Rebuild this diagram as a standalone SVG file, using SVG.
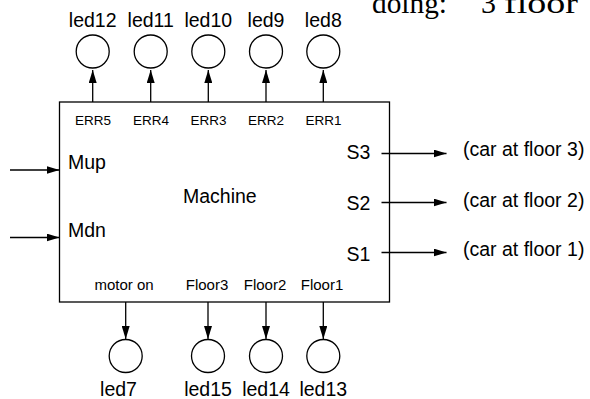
<svg xmlns="http://www.w3.org/2000/svg" width="590" height="399" viewBox="0 0 590 399">
<style>
.big{font-family:"Liberation Sans",Arial,sans-serif;font-size:19.5px;fill:#000}
.sm{font-family:"Liberation Sans",Arial,sans-serif;font-size:13.5px;fill:#000}
.md{font-family:"Liberation Sans",Arial,sans-serif;font-size:15px;fill:#000}
.mid{text-anchor:middle}
.ttl{font-family:"Liberation Serif","Times New Roman",serif;font-size:30px;fill:#000}
.ln{stroke:#000;stroke-width:1.3;fill:none}
.led{stroke:#000;stroke-width:1.3;fill:#fff}
</style>
<defs>
<marker id="ah" markerUnits="userSpaceOnUse" markerWidth="13" markerHeight="8" refX="13" refY="4" orient="auto">
<path d="M0,0 L13,4 L0,8 Z" fill="#000"/>
</marker>
</defs>
<g id="title">
<text class="ttl" x="372" y="13" textLength="75" lengthAdjust="spacingAndGlyphs">doing:</text>
<text class="ttl" x="481" y="13">3</text>
<text class="ttl" x="504" y="13" textLength="74" lengthAdjust="spacingAndGlyphs">floor</text>
</g>
<g id="machine">
<rect x="59.5" y="102" width="330" height="200" class="ln"/>
<text class="big" x="183" y="203">Machine</text>
<text class="big" x="68" y="169">Mup</text>
<text class="big" x="68" y="237">Mdn</text>
<text class="big" x="346.5" y="159">S3</text>
<text class="big" x="346.5" y="210">S2</text>
<text class="big" x="346.5" y="261">S1</text>
<text class="sm mid" x="93" y="125">ERR5</text>
<text class="sm mid" x="151" y="125">ERR4</text>
<text class="sm mid" x="208.5" y="125">ERR3</text>
<text class="sm mid" x="266" y="125">ERR2</text>
<text class="sm mid" x="323.5" y="125">ERR1</text>
<text class="md mid" x="124" y="290">motor on</text>
<text class="md mid" x="207" y="290">Floor3</text>
<text class="md mid" x="265" y="290">Floor2</text>
<text class="md mid" x="322" y="290">Floor1</text>
</g>
<g id="led12"><circle cx="92.7" cy="51.5" r="16.5" class="led"/><text class="big mid" x="92.7" y="26.5">led12</text></g>
<g id="led11"><circle cx="150.7" cy="51.5" r="16.5" class="led"/><text class="big mid" x="150.7" y="26.5">led11</text></g>
<g id="led10"><circle cx="208.3" cy="51.5" r="16.5" class="led"/><text class="big mid" x="208.3" y="26.5">led10</text></g>
<g id="led9"><circle cx="266" cy="51.5" r="16.5" class="led"/><text class="big mid" x="266" y="26.5">led9</text></g>
<g id="led8"><circle cx="323.3" cy="51.5" r="16.5" class="led"/><text class="big mid" x="323.3" y="26.5">led8</text></g>
<g id="led7"><circle cx="125.7" cy="356" r="16.5" class="led"/><text class="big mid" x="118.5" y="396">led7</text></g>
<g id="led15"><circle cx="208" cy="356" r="16.5" class="led"/><text class="big mid" x="208" y="396">led15</text></g>
<g id="led14"><circle cx="266" cy="356" r="16.5" class="led"/><text class="big mid" x="266" y="396">led14</text></g>
<g id="led13"><circle cx="323.3" cy="356" r="16.5" class="led"/><text class="big mid" x="323.3" y="396">led13</text></g>
<g id="out3"><text class="big" x="463" y="156">(car at floor 3)</text></g>
<g id="out2"><text class="big" x="463" y="206.5">(car at floor 2)</text></g>
<g id="out1"><text class="big" x="463" y="256">(car at floor 1)</text></g>
<g id="connectors">
<line x1="92.7" y1="102" x2="92.7" y2="70" class="ln" marker-end="url(#ah)"/>
<line x1="150.7" y1="102" x2="150.7" y2="70" class="ln" marker-end="url(#ah)"/>
<line x1="208.3" y1="102" x2="208.3" y2="70" class="ln" marker-end="url(#ah)"/>
<line x1="266" y1="102" x2="266" y2="70" class="ln" marker-end="url(#ah)"/>
<line x1="323.3" y1="102" x2="323.3" y2="70" class="ln" marker-end="url(#ah)"/>
<line x1="125.7" y1="302" x2="125.7" y2="339" class="ln" marker-end="url(#ah)"/>
<line x1="208" y1="302" x2="208" y2="339" class="ln" marker-end="url(#ah)"/>
<line x1="266" y1="302" x2="266" y2="339" class="ln" marker-end="url(#ah)"/>
<line x1="323.3" y1="302" x2="323.3" y2="339" class="ln" marker-end="url(#ah)"/>
<line x1="10" y1="170" x2="59.5" y2="170" class="ln" marker-end="url(#ah)"/>
<line x1="10" y1="237.5" x2="59.5" y2="237.5" class="ln" marker-end="url(#ah)"/>
<line x1="381.5" y1="153.5" x2="446.5" y2="153.5" class="ln" marker-end="url(#ah)"/>
<line x1="381.5" y1="202.5" x2="446.5" y2="202.5" class="ln" marker-end="url(#ah)"/>
<line x1="381.5" y1="252.5" x2="446.5" y2="252.5" class="ln" marker-end="url(#ah)"/>
</g>
</svg>
